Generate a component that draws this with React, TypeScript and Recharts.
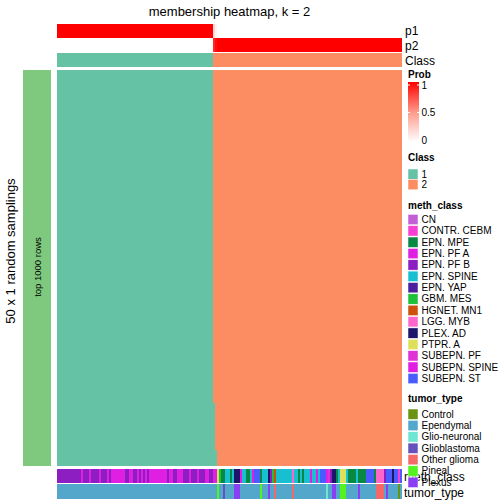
import React from 'react';
import { ComposedChart, XAxis, YAxis, ReferenceArea } from 'recharts';

// ---------- data ----------
const p1Runs: [number, number][] = [[1, 78], [0.15, 1], [0.05, 1], [0, 92]];
const p2Runs: [number, number][] = [[0, 78], [0.85, 1], [0.95, 1], [1, 92]];
const classRuns: [string, number][] = [['1', 78], ['2', 94]];

// class-1 sample count per sampling row (50 rows)
const mainBoundaries: number[] = [
  78, 78, 78, 78, 78, 78, 78, 78, 78, 78,
  78, 78, 78, 78, 78, 78, 78, 78, 78, 78,
  78, 78, 78, 78, 78, 78, 78, 78, 78, 78,
  78, 78, 78, 78, 78, 78, 78, 78, 78, 78,
  78, 78, 79, 79, 79, 79, 79, 79, 80, 80,
];

const methRuns: [string, number][] = [
  ['EPN. PF B', 12], ['EPN. PF A', 1], ['EPN. PF B', 3], ['EPN. PF A', 1], ['EPN. PF B', 4],
  ['EPN. PF A', 1], ['EPN. PF B', 3], ['EPN. PF A', 1], ['EPN. PF B', 1], ['EPN. PF A', 7],
  ['EPN. PF B', 2], ['EPN. PF A', 2], ['EPN. PF B', 2], ['EPN. PF A', 1], ['EPN. PF B', 1],
  ['EPN. PF A', 1], ['EPN. PF B', 1], ['EPN. PF A', 1], ['EPN. PF B', 1], ['EPN. PF A', 9],
  ['EPN. PF B', 1], ['EPN. PF A', 2], ['EPN. PF B', 2], ['EPN. PF A', 3], ['EPN. PF B', 3],
  ['EPN. PF A', 1], ['EPN. PF B', 3], ['EPN. PF A', 1], ['EPN. PF B', 3], ['EPN. PF A', 2],
  ['EPN. PF B', 2], ['EPN. PF A', 2], ['PTPR. A', 1], ['GBM. MES', 1], ['EPN. MPE', 2],
  ['EPN. SPINE', 2], ['EPN. MPE', 1], ['EPN. SPINE', 1], ['PLEX. AD', 3], ['EPN. PF A', 1],
  ['EPN. SPINE', 2], ['EPN. MPE', 2], ['EPN. SPINE', 1], ['EPN. PF A', 1], ['SUBEPN. ST', 3],
  ['EPN. MPE', 1], ['EPN. SPINE', 3], ['PLEX. AD', 1], ['EPN. PF B', 1], ['GBM. MES', 1],
  ['HGNET. MN1', 1], ['EPN. SPINE', 8], ['LGG. MYB', 1], ['EPN. SPINE', 2], ['EPN. MPE', 1],
  ['EPN. SPINE', 1], ['EPN. MPE', 1], ['EPN. SPINE', 3], ['EPN. PF A', 1], ['EPN. SPINE', 2],
  ['EPN. PF A', 1], ['EPN. SPINE', 1], ['SUBEPN. ST', 3], ['EPN. PF A', 1], ['SUBEPN. PF', 1],
  ['EPN. PF B', 1], ['PLEX. AD', 2], ['EPN. MPE', 1], ['EPN. SPINE', 1], ['PTPR. A', 3],
  ['EPN. SPINE', 1], ['EPN. MPE', 4], ['EPN. SPINE', 1], ['EPN. MPE', 4], ['SUBEPN. ST', 4],
  ['EPN. MPE', 1], ['LGG. MYB', 4], ['EPN. PF B', 1], ['SUBEPN. ST', 3], ['PLEX. AD', 1],
  ['SUBEPN. ST', 2], ['CONTR. CEBM', 1], ['SUBEPN. ST', 1],
];

const tumorRuns: [string, number][] = [
  ['Ependymal', 80], ['Pineal', 1], ['Ependymal', 2], ['Glioblastoma', 1], ['Ependymal', 4],
  ['Plexus', 3], ['Ependymal', 10], ['Pineal', 1], ['Ependymal', 3], ['Plexus', 1],
  ['Ependymal', 2], ['Other glioma', 1], ['Ependymal', 8], ['Other glioma', 1], ['Ependymal', 16],
  ['Glio-neuronal', 1], ['Ependymal', 2], ['Plexus', 2], ['Ependymal', 2], ['Pineal', 3],
  ['Ependymal', 6], ['Plexus', 1], ['Ependymal', 8], ['Other glioma', 4], ['Ependymal', 1],
  ['Plexus', 1], ['Ependymal', 5], ['Control', 1], ['Ependymal', 1],
];

const methClasses = [
  'CN', 'CONTR. CEBM', 'EPN. MPE', 'EPN. PF A', 'EPN. PF B', 'EPN. SPINE', 'EPN. YAP', 'GBM. MES',
  'HGNET. MN1', 'LGG. MYB', 'PLEX. AD', 'PTPR. A', 'SUBEPN. PF', 'SUBEPN. SPINE', 'SUBEPN. ST',
];
const tumorTypes = ['Control', 'Ependymal', 'Glio-neuronal', 'Glioblastoma', 'Other glioma', 'Pineal', 'Plexus'];
const classLabels = ['1', '2'];
const probTicks = ['1', '0.5', '0'];

// ---------- styles ----------
const methColors: Record<string, string> = {
  'CN': '#C45ED4', 'CONTR. CEBM': '#F83FD4', 'EPN. MPE': '#078843', 'EPN. PF A': '#E11FE3',
  'EPN. PF B': '#8C1EC2', 'EPN. SPINE': '#17BFD1', 'EPN. YAP': '#4B1E9E', 'GBM. MES': '#1EC13A',
  'HGNET. MN1': '#CF500A', 'LGG. MYB': '#FE66CB', 'PLEX. AD': '#1E156A', 'PTPR. A': '#DDE05B',
  'SUBEPN. PF': '#DF31D6', 'SUBEPN. SPINE': '#DF1FE1', 'SUBEPN. ST': '#4A5CFE',
};
const tumorColors: Record<string, string> = {
  'Control': '#6B9312', 'Ependymal': '#53A7CA', 'Glio-neuronal': '#6FE5D3', 'Glioblastoma': '#6650BE',
  'Other glioma': '#F46868', 'Pineal': '#53F31F', 'Plexus': '#8B3FF4',
};
const classColors: Record<string, string> = { '1': '#66C2A5', '2': '#FC8D62' };
const sideColor = '#7FC97F';
const FONT = '"Liberation Sans", Arial, Helvetica, sans-serif';

const probColor = (p: number) => {
  const g = Math.round(255 * (1 - p));
  return `rgb(255,${g},${g})`;
};

// row bands (vertical layout, units from top of chart plot)
const ROWS = {
  p1: [0, 14], p2: [14.3, 27.7], cls: [29, 42.7], main: [46, 442], meth: [445, 459], tumor: [459.7, 475],
};
const Y_MAX = 475;

function runsToCells<T>(runs: [T, number][]) {
  let start = 0;
  return runs.map(([v, n]) => {
    const c = { v, x1: start, x2: start + n };
    start += n;
    return c;
  });
}

const N = classRuns.reduce((s, r) => s + r[1], 0);
const dummy = [{ i: 0 }, { i: N }];

export default function App() {
  const areas: React.ReactNode[] = [];
  let k = 0;
  const add = (x1: number, x2: number, y: number[], fill: string) => {
    areas.push(
      <ReferenceArea key={k++} x1={x1} x2={x2} y1={y[0]} y2={y[1]} fill={fill} fillOpacity={1}
        stroke="none" strokeWidth={0} ifOverflow="visible" isFront shapeRendering="crispEdges" />
    );
  };
  runsToCells(p1Runs).forEach((c) => add(c.x1, c.x2, ROWS.p1, probColor(c.v)));
  runsToCells(p2Runs).forEach((c) => add(c.x1, c.x2, ROWS.p2, probColor(c.v)));
  runsToCells(classRuns).forEach((c) => add(c.x1, c.x2, ROWS.cls, classColors[c.v]));
  // main heatmap: group consecutive sampling rows with the same boundary
  const rowH = (ROWS.main[1] - ROWS.main[0]) / mainBoundaries.length;
  let r0 = 0;
  for (let r = 1; r <= mainBoundaries.length; r++) {
    if (r === mainBoundaries.length || mainBoundaries[r] !== mainBoundaries[r0]) {
      const y = [ROWS.main[0] + r0 * rowH, ROWS.main[0] + r * rowH];
      const b = mainBoundaries[r0];
      add(0, b, y, classColors['1']);
      add(b, N, y, classColors['2']);
      r0 = r;
    }
  }
  runsToCells(methRuns).forEach((c) => add(c.x1, c.x2, ROWS.meth, methColors[c.v]));
  runsToCells(tumorRuns).forEach((c) => add(c.x1, c.x2, ROWS.tumor, tumorColors[c.v]));

  const LX = 408;
  const sw = (y: number, color: string, label: string, key: string) => (
    <g key={key}>
      <rect x={LX} y={y - 5} width={10} height={10.4} fill={color} stroke="#ffffff" strokeWidth={0.5} />
      <text x={LX + 13.5} y={y + 3.6} fontSize={10} fill="#000">{label}</text>
    </g>
  );

  return (
    <div style={{ position: 'absolute', left: 0, top: 0, width: 504, height: 504, background: '#fff' }}>
      <ComposedChart width={504} height={504} data={dummy}
        margin={{ top: 24, right: 102, bottom: 5, left: 57 }}>
        <XAxis dataKey="i" type="number" domain={[0, N]} allowDataOverflow hide />
        <YAxis type="number" domain={[0, Y_MAX]} allowDataOverflow reversed hide />
        {areas}
      </ComposedChart>
      <svg width={504} height={504} style={{ position: 'absolute', left: 0, top: 0, pointerEvents: 'none' }}
        fontFamily={FONT}>
        <defs>
          <linearGradient id="probGrad" x1="0" y1="0" x2="0" y2="1">
            <stop offset="0" stopColor="#FF0000" />
            <stop offset="0.5" stopColor="#FF9A8A" />
            <stop offset="1" stopColor="#FFFFFF" />
          </linearGradient>
        </defs>
        <text x={229.5} y={16} fontSize={13} textAnchor="middle" fill="#000">membership heatmap, k = 2</text>
        <text x={405} y={35} fontSize={12} fill="#000">p1</text>
        <text x={405} y={49.5} fontSize={12} fill="#000">p2</text>
        <text x={405} y={64.5} fontSize={12} fill="#000">Class</text>
        <text x={404} y={481} fontSize={12} fill="#000">meth_class</text>
        <text x={404} y={497} fontSize={12} fill="#000">tumor_type</text>

        <rect x={23} y={70} width={28} height={396} fill={sideColor} />
        <text transform="translate(40.5,267) rotate(-90)" fontSize={9.5} textAnchor="middle" fill="#000">top 1000 rows</text>
        <text transform="translate(14.5,251) rotate(-90)" fontSize={13} textAnchor="middle" fill="#000">50 x 1 random samplings</text>

        <text x={LX} y={78} fontSize={10} fontWeight="bold" fill="#000">Prob</text>
        <rect x={LX} y={82} width={11} height={60} fill="url(#probGrad)" />
        {probTicks.map((t, i) => (
          <g key={t}>
            <line x1={LX} x2={LX + 2} y1={85 + i * 27.5} y2={85 + i * 27.5} stroke="#fff" strokeWidth={1} />
            <line x1={LX + 9} x2={LX + 11} y1={85 + i * 27.5} y2={85 + i * 27.5} stroke="#fff" strokeWidth={1} />
            <text x={LX + 13.5} y={88.5 + i * 27.5} fontSize={10} fill="#000">{t}</text>
          </g>
        ))}

        <text x={LX} y={161} fontSize={10} fontWeight="bold" fill="#000">Class</text>
        {classLabels.map((c, i) => sw(174 + i * 10.4, classColors[c], c, 'c' + c))}

        <text x={LX} y={209} fontSize={10} fontWeight="bold" fill="#000">meth_class</text>
        {methClasses.map((m, i) => sw(219.3 + i * 11.36, methColors[m], m, 'm' + i))}

        <text x={LX} y={402} fontSize={10} fontWeight="bold" fill="#000">tumor_type</text>
        {tumorTypes.map((t, i) => sw(414 + i * 11.36, tumorColors[t], t, 't' + i))}
      </svg>
    </div>
  );
}
